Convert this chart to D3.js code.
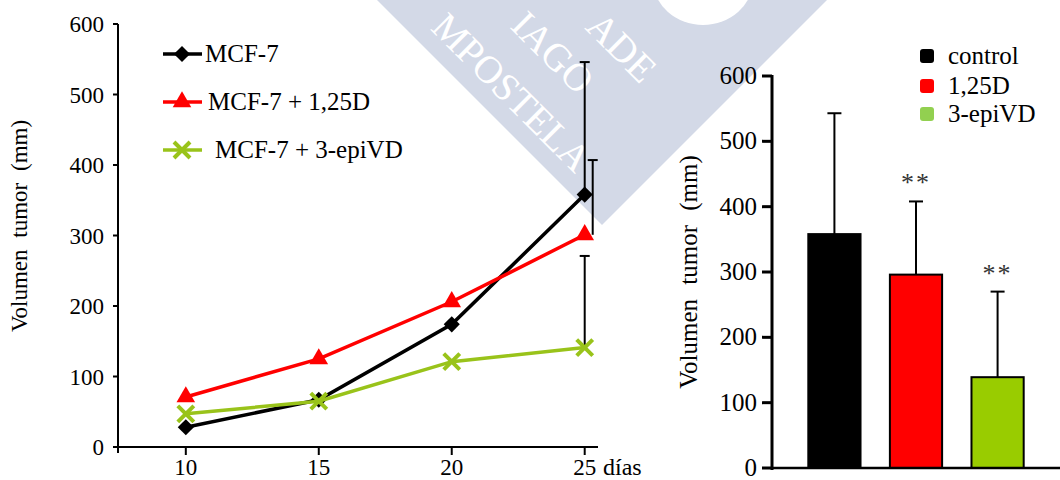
<!DOCTYPE html>
<html>
<head>
<meta charset="utf-8">
<script src="https://cdn.jsdelivr.net/npm/d3@7"></script>
<style>
  body { margin: 0; background: #fff; }
  text { font-family: "Liberation Serif", "DejaVu Serif", serif; }
</style>
</head>
<body>
<svg id="chart"></svg>
<script>
const width = 1060;
const height = 480;
const serif = "'Liberation Serif', 'DejaVu Serif', serif";

// left panel: tumour volume by day
const days = [10, 15, 20, 25];
const seriesNames = ["MCF-7", "MCF-7 + 1,25D", "MCF-7 + 3-epiVD"];
const mcf7 = [28, 67, 174, 358];
const mcf7D = [71, 125, 206, 301];
const mcf7Epi = [47, 65, 121, 141];
// SD only drawn on day 25
const mcf7Err = [null, null, null, 188];
const mcf7DErr = [null, null, null, 106];
const mcf7EpiErr = [null, null, null, 130];
const leftTicks = [0, 100, 200, 300, 400, 500, 600];
const dayTicks = [10, 15, 20, 25];

// right panel: day 25 bars
const groups = ["control", "1,25D", "3-epiVD"];
const barMeans = [358, 296, 139];
const barErr = [185, 112, 131];
const barStars = ["", "**", "**"];
const rightTicks = [0, 100, 200, 300, 400, 500, 600];

const svg = d3.select("#chart").attr("width", width).attr("height", height)
  .style("font-family", serif);

// ---- watermark behind everything
const wm = svg.append("g");
wm.append("path")
  .attr("d", "M377,0 L827,0 L602,225 Z")
  .attr("fill", "#d3d9e7");
wm.append("ellipse")
  .attr("cx", 703).attr("cy", -20).attr("rx", 50).attr("ry", 45)
  .attr("fill", "#fff");
[["MPOSTELA", 512, 92, 39], ["IAGO", 553, 52, 39], ["ADE", 622, 47, 39]].forEach(([t, x, y, fs]) => {
  wm.append("text")
    .attr("transform", `translate(${x},${y}) rotate(45)`)
    .attr("text-anchor", "middle")
    .attr("dy", "0.35em")
    .style("font-family", serif)
    .style("font-size", fs + "px")
    .style("fill", "#fff")
    .text(t);
});

// ---- left chart
const x = d3.scaleLinear().domain([7.45, 25.5]).range([118, 598]);
const y = d3.scaleLinear().domain([0, 600]).range([447, 24]);

const left = svg.append("g");

left.append("line")
  .attr("x1", x(7.45)).attr("x2", x(7.45))
  .attr("y1", y(600)).attr("y2", y(0) + 6)
  .attr("stroke", "#000").attr("stroke-width", 2);
left.append("line")
  .attr("x1", x(7.45) - 4).attr("x2", x(25.5))
  .attr("y1", y(0)).attr("y2", y(0))
  .attr("stroke", "#000").attr("stroke-width", 2);

left.selectAll(".ytick").data(leftTicks).join("line")
  .attr("x1", x(7.45) - 5).attr("x2", x(7.45))
  .attr("y1", d => y(d)).attr("y2", d => y(d))
  .attr("stroke", "#000").attr("stroke-width", 2);
left.selectAll(".ylab").data(leftTicks).join("text")
  .attr("x", 104).attr("y", d => y(d) + 8)
  .attr("text-anchor", "end")
  .style("font-family", serif)
  .style("font-size", "23px")
  .text(d => d);

left.selectAll(".xtick").data(dayTicks).join("line")
  .attr("x1", d => x(d)).attr("x2", d => x(d))
  .attr("y1", y(0)).attr("y2", y(0) + 8)
  .attr("stroke", "#000").attr("stroke-width", 2);
left.selectAll(".xlab").data(dayTicks).join("text")
  .attr("x", d => x(d)).attr("y", 475)
  .attr("text-anchor", "middle")
  .style("font-family", serif)
  .style("font-size", "23px")
  .text(d => d);
left.append("text")
  .attr("x", 603).attr("y", 475)
  .style("font-family", serif)
  .style("font-size", "24px")
  .text("días");

left.append("text")
  .attr("transform", "translate(27,226) rotate(-90)")
  .attr("text-anchor", "middle")
  .style("font-family", serif)
  .style("font-size", "23px")
  .style("word-spacing", "6px")
  .text("Volumen tumor (mm)");

// marker shapes
function diamond(g, cx, cy) {
  g.append("path")
    .attr("d", d3.symbol(d3.symbolSquare, 130)())
    .attr("transform", `translate(${cx},${cy}) rotate(45)`)
    .attr("fill", "#000");
}
function triangle(g, cx, cy) {
  g.append("path")
    .attr("d", d3.symbol(d3.symbolTriangle, 150)())
    .attr("transform", `translate(${cx},${cy})`)
    .attr("fill", "#ff0000");
}
function cross(g, cx, cy) {
  g.append("path")
    .attr("d", "M-8,-8L8,8M-8,8L8,-8")
    .attr("transform", `translate(${cx},${cy})`)
    .attr("stroke", "#99c31a").attr("stroke-width", 4).attr("fill", "none");
}

const series = [
  { vals: mcf7, err: mcf7Err, color: "#000", mark: diamond, dx: 0 },
  { vals: mcf7D, err: mcf7DErr, color: "#ff0000", mark: triangle, dx: 8 },
  { vals: mcf7Epi, err: mcf7EpiErr, color: "#99c31a", mark: cross, dx: 0 }
];

const line = d3.line().x((d, i) => x(days[i])).y(d => y(d));

// error bars first so markers sit on top
series.forEach(s => {
  s.err.forEach((e, i) => {
    if (e == null) return;
    const ex = x(days[i]) + s.dx;
    left.append("line")
      .attr("x1", ex).attr("x2", ex)
      .attr("y1", y(s.vals[i])).attr("y2", y(s.vals[i] + e))
      .attr("stroke", "#000").attr("stroke-width", 2);
    left.append("line")
      .attr("x1", ex - 5).attr("x2", ex + 5)
      .attr("y1", y(s.vals[i] + e)).attr("y2", y(s.vals[i] + e))
      .attr("stroke", "#000").attr("stroke-width", 2);
  });
});

series.forEach(s => {
  left.append("path")
    .datum(s.vals)
    .attr("d", line)
    .attr("fill", "none")
    .attr("stroke", s.color)
    .attr("stroke-width", 3.5);
  s.vals.forEach((v, i) => s.mark(left, x(days[i]), y(v)));
});

// legend
const legY = [54, 102, 150];
const legX = [205, 208, 215];
series.forEach((s, i) => {
  left.append("line")
    .attr("x1", 163).attr("x2", 202)
    .attr("y1", legY[i]).attr("y2", legY[i])
    .attr("stroke", s.color).attr("stroke-width", 3.5);
  s.mark(left, 182, legY[i]);
  left.append("text")
    .attr("x", legX[i]).attr("y", legY[i] + 8)
    .style("font-family", serif)
    .style("font-size", "25px")
    .text(seriesNames[i]);
});

// ---- right chart
const xb = d3.scaleBand().domain(groups).range([772, 1060])
  .paddingInner(0.36).paddingOuter(0.445);
const yb = d3.scaleLinear().domain([0, 600]).range([468, 76]);
const barFill = ["#000", "#ff0000", "#99cc00"];
const legFill = ["#000", "#ff0000", "#92d050"];

const right = svg.append("g");

right.selectAll(".bar").data(groups).join("rect")
  .attr("x", d => xb(d))
  .attr("y", (d, i) => yb(barMeans[i]))
  .attr("width", xb.bandwidth())
  .attr("height", (d, i) => yb(0) - yb(barMeans[i]))
  .attr("fill", (d, i) => barFill[i])
  .attr("stroke", "#000").attr("stroke-width", 2);

groups.forEach((g, i) => {
  const cx = xb(g) + xb.bandwidth() / 2;
  const top = yb(barMeans[i] + barErr[i]);
  right.append("line")
    .attr("x1", cx).attr("x2", cx)
    .attr("y1", yb(barMeans[i])).attr("y2", top)
    .attr("stroke", "#000").attr("stroke-width", 2);
  right.append("line")
    .attr("x1", cx - 7).attr("x2", cx + 7)
    .attr("y1", top).attr("y2", top)
    .attr("stroke", "#000").attr("stroke-width", 2);
  if (barStars[i]) {
    right.append("text")
      .attr("x", cx).attr("y", top - 10)
      .attr("text-anchor", "middle")
      .style("font-family", serif)
      .style("font-size", "26px")
      .style("letter-spacing", "2px")
      .style("fill", "#333")
      .text(barStars[i]);
  }
});

right.append("line")
  .attr("x1", 772).attr("x2", 772)
  .attr("y1", yb(600) - 1).attr("y2", yb(0) + 2)
  .attr("stroke", "#000").attr("stroke-width", 3);
right.append("line")
  .attr("x1", 771).attr("x2", 1060)
  .attr("y1", yb(0)).attr("y2", yb(0))
  .attr("stroke", "#000").attr("stroke-width", 2.5);
right.selectAll(".ytick").data(rightTicks).join("line")
  .attr("x1", 762).attr("x2", 772)
  .attr("y1", d => yb(d)).attr("y2", d => yb(d))
  .attr("stroke", "#000").attr("stroke-width", 3);
right.selectAll(".ylab").data(rightTicks).join("text")
  .attr("x", 757).attr("y", d => yb(d) + 8)
  .attr("text-anchor", "end")
  .style("font-family", serif)
  .style("font-size", "25px")
  .text(d => d);

right.append("text")
  .attr("transform", "translate(697,272) rotate(-90)")
  .attr("text-anchor", "middle")
  .style("font-family", serif)
  .style("font-size", "25px")
  .style("word-spacing", "8px")
  .text("Volumen tumor (mm)");

const rlegY = [56, 86, 114];
groups.forEach((g, i) => {
  right.append("rect")
    .attr("x", 920).attr("y", rlegY[i] - 7)
    .attr("width", 14).attr("height", 14).attr("rx", 3)
    .attr("fill", legFill[i]);
  right.append("text")
    .attr("x", 948).attr("y", rlegY[i] + 8)
    .style("font-family", serif)
    .style("font-size", "25px")
    .text(g);
});
</script>
</body>
</html>
